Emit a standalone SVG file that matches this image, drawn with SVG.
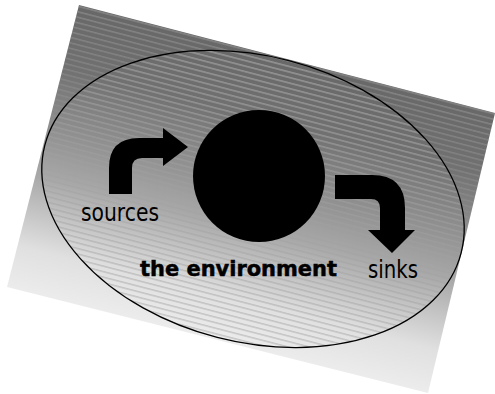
<svg xmlns="http://www.w3.org/2000/svg" width="495" height="394" viewBox="0 0 495 394">
  <style>
    .lbl { font-family: "DejaVu Sans", "Liberation Sans", sans-serif; fill: #000; }
    .arrow { fill: #000; stroke: none; }
  </style>
  <defs>
    <linearGradient id="bg" gradientUnits="userSpaceOnUse" x1="287" y1="59" x2="217" y2="340">
      <stop offset="0" stop-color="#686868"/>
      <stop offset="0.22" stop-color="#717171"/>
      <stop offset="0.6" stop-color="#a8a8a8"/>
      <stop offset="0.85" stop-color="#e0e0e0"/>
      <stop offset="1" stop-color="#ececec"/>
    </linearGradient>
    <linearGradient id="fade" gradientUnits="userSpaceOnUse" x1="287" y1="59" x2="217" y2="340">
      <stop offset="0" stop-color="#fff"/>
      <stop offset="0.3" stop-color="#fff" stop-opacity="0.6"/>
      <stop offset="0.5" stop-color="#fff" stop-opacity="0"/>
    </linearGradient>
    <mask id="topFade" maskUnits="userSpaceOnUse" x="0" y="0" width="495" height="394">
      <rect x="0" y="0" width="495" height="394" fill="url(#fade)"/>
    </mask>
    <pattern id="hatch" width="20" height="5.33" patternUnits="userSpaceOnUse" patternTransform="rotate(14.5)">
      <line x1="-1" y1="2.6" x2="21" y2="2.6" stroke="#a0a0a0" stroke-width="0.8"/>
    </pattern>
    <clipPath id="ellClip">
      <ellipse cx="0" cy="0" rx="215" ry="143" transform="translate(253 199) rotate(14.5)"/>
    </clipPath>
  </defs>

  <g id="slide">
    <polygon points="79,5 495,113 428,393 7,287" fill="url(#bg)"/>
    <polygon points="79,5 495,113 428,393 7,287" fill="url(#hatch)" mask="url(#topFade)"/>
  </g>

  <g id="environment">
    <rect x="0" y="0" width="495" height="394" fill="url(#hatch)" clip-path="url(#ellClip)"/>
    <ellipse cx="0" cy="0" rx="215" ry="143" transform="translate(253 199) rotate(14.5)" fill="none" stroke="#000" stroke-width="1.3"/>
  </g>

  <g id="economy">
    <circle cx="259" cy="176" r="66" fill="#000"/>
  </g>

  <g id="connectors">
    <path class="arrow" d="M109,194 L109,168 Q109,138 139,138 L163,138 L163,128 L188,147 L163,166 L163,158 L142,158 Q132,158 132,168 L132,194 Z"/>
    <path class="arrow" d="M335,175 L372,175 Q405,175 405,208 L405,230 L415,230 L392,253 L368,230 L380,230 L380,208 Q380,199 371,199 L335,199 Z"/>
  </g>

  <g id="label-sources">
    <text class="lbl" x="81" y="221" font-size="24" textLength="78" lengthAdjust="spacingAndGlyphs">sources</text>
  </g>
  <g id="label-environment">
    <text class="lbl" x="140" y="276" font-size="21" font-weight="bold" stroke="#000" stroke-width="0.5" textLength="197" lengthAdjust="spacingAndGlyphs">the environment</text>
  </g>
  <g id="label-sinks">
    <text class="lbl" x="368" y="278" font-size="24" textLength="50" lengthAdjust="spacingAndGlyphs">sinks</text>
  </g>
</svg>
